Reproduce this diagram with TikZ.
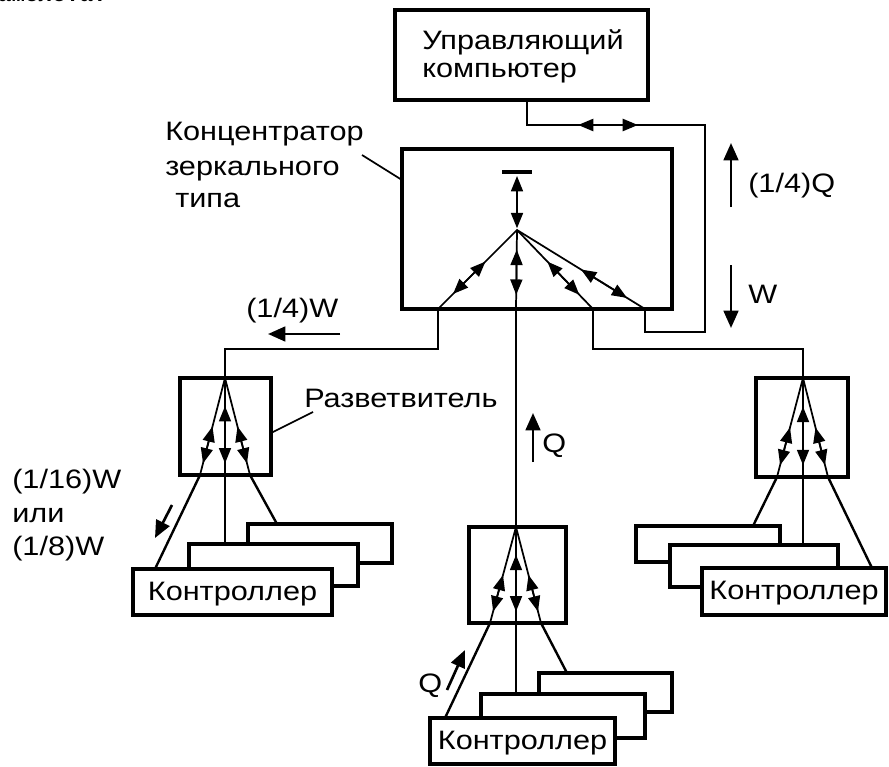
\documentclass[tikz,border=0pt]{standalone}
\usepackage{fontspec}
\setmainfont{Liberation Sans}[FakeStretch=1.15]
\newfontfamily\bookfont{Liberation Mono}
\usetikzlibrary{arrows.meta,fit,calc}

\begin{document}
\begin{tikzpicture}[x=0.75pt,y=-0.75pt,
  every node/.style={font=\fontsize{20}{24}\selectfont},
  bigbox/.style={draw, line width=3.6pt, fill=white, inner sep=0pt},
  splitbox/.style={draw, line width=3pt, inner sep=0pt},
  ctrlbox/.style={draw, line width=3.1pt, fill=white, inner sep=0pt},
  wire/.style={line width=1.8pt},
  ray/.style={line width=1.3pt},
  biarrow/.style={line width=1.3pt,
    {Triangle[length=11.5pt,width=9pt]}-{Triangle[length=11.5pt,width=9pt]}},
  flow/.style={line width=2pt, -{Triangle[length=13pt,width=11pt]}},
  lbl/.style={anchor=base west, inner sep=0pt}
]
\useasboundingbox (0,0) rectangle (889,767);
\clip (0,0) rectangle (889,767);

% tail of the preceding text line
\node[anchor=base east, inner sep=0pt,
  font=\bookfont\bfseries\fontsize{17}{17}\selectfont] (prevline) at (107,2) {самолета.};

% ---------- control computer ----------
\node[bigbox, fit={(395,10)(648,100)}] (comp) {};
\node[lbl] (comptxt1) at (422,50) {Управляющий};
\node[lbl] (comptxt2) at (422,78) {компьютер};

% ---------- mirror-type concentrator ----------
\node[bigbox, fit={(402,149)(672,309)}] (conc) {};
\node[lbl] (conclbl1) at (165,141) {Концентратор};
\node[lbl] (conclbl2) at (165,175) {зеркального};
\node[lbl] (conclbl3) at (175,207) {типа};
\coordinate (concpin) at (402,180);
\coordinate (conclead) at (362,155);
\draw[ray] (conclead) -- (concpin);

\coordinate (mirror) at (517,172);
\coordinate (hub) at (517,230);
\coordinate (cL) at (438,309);
\coordinate (cM) at (516,309);
\coordinate (cR1) at (593,309);
\coordinate (cR2) at (645,309);
\draw[line width=3.2pt] ($(mirror)+(-15,0)$) -- ($(mirror)+(15,0)$);
\draw[biarrow] ($(mirror)!0.07!(hub)$) -- ($(mirror)!0.97!(hub)$);
\draw[ray] (cL) -- (hub) -- (cR2);
\draw[ray] (hub) -- (cR1);
\draw[ray] (hub) -- (cM);
\draw[biarrow] ($(hub)!0.40!(cL)$) -- ($(hub)!0.81!(cL)$);
\draw[biarrow] ($(hub)!0.25!(cM)$) -- ($(hub)!0.82!(cM)$);
\draw[biarrow] ($(hub)!0.40!(cR1)$) -- ($(hub)!0.82!(cR1)$);
\draw[biarrow] ($(hub)!0.50!(cR2)$) -- ($(hub)!0.86!(cR2)$);

% ---------- link computer <-> concentrator ----------
\coordinate (compout) at (527,100);
\coordinate (loopTR) at (705,125);
\draw[wire] (compout) |- (loopTR) |- (645,332) -- (cR2);
\draw[biarrow, line width=1.8pt] (578,125) -- (638,125);
\draw[flow] (731,207) -- (731,143);
\node[lbl] (qq) at (748,192) {(1/4)Q};
\draw[flow] (731,265) -- (731,328);
\node[lbl] (ww) at (748,303) {W};

% ---------- splitters ----------
% left splitter
\node[splitbox, fit={(180,378)(271,475)}] (spL) {};
\coordinate (hL) at (225,378);
\coordinate (hLa) at (200,475);
\coordinate (hLb) at (225,475);
\coordinate (hLc) at (250,475);
\node[lbl] (splbl) at (304,407) {Разветвитель};
\coordinate (splead) at (313,412);
\draw[ray] (splead) -- (271,433);

% right splitter
\node[splitbox, fit={(756,378)(848,477)}] (spR) {};
\coordinate (hR) at (803,378);
\coordinate (hRa) at (777,477);
\coordinate (hRb) at (803,477);
\coordinate (hRc) at (828,477);

% bottom splitter
\node[splitbox, fit={(469,527)(566,623)}] (spB) {};
\coordinate (hB) at (516,527);
\coordinate (hBa) at (490,623);
\coordinate (hBb) at (516,623);
\coordinate (hBc) at (541,623);

\foreach \h/\a/\b/\c in {hL/hLa/hLb/hLc, hR/hRa/hRb/hRc, hB/hBa/hBb/hBc}{
  \draw[ray] (\a) -- (\h) -- (\c);
  \draw[ray] (\h) -- (\b);
  \draw[biarrow] ($(\h)!0.50!(\a)$) -- ($(\h)!0.88!(\a)$);
  \draw[biarrow] ($(\h)!0.29!(\b)$) -- ($(\h)!0.88!(\b)$);
  \draw[biarrow] ($(\h)!0.50!(\c)$) -- ($(\h)!0.88!(\c)$);
}

% concentrator outputs to splitters
\draw[wire] (cL) -- (438,349) -| (hL);
\draw[wire] (cR1) -- (593,349) -| (hR);
\draw[wire] (cM) -- (hB);
\draw[flow] (340,334) -- (268,334);
\node[lbl] (wq) at (246,317) {(1/4)W};
\draw[flow] (533,462) -- (533,413);
\node[lbl] (qc) at (542,452) {Q};

% ---------- controllers, left group ----------
\node[ctrlbox, fit={(248,524)(392,563)}] (cLb) {};
\node[ctrlbox, fit={(189,544)(358,586)}] (cLm) {};
\node[ctrlbox, fit={(133,569)(332,615)}] (cLf) {};
\node[anchor=base, inner sep=0pt] at ($(cLf.center)+(0,8)$) {Контроллер};
\draw[wire] (hLa) -- (155,569);
\draw[wire] (hLb) -- (225,544);
\draw[wire] (hLc) -- (277,524);
\draw[flow] (172,505) -- (155,538);
\node[lbl] (wl1) at (12,488) {(1/16)W};
\node[lbl] (wl2) at (12,522) {или};
\node[lbl] (wl3) at (12,555) {(1/8)W};

% ---------- controllers, right group ----------
\node[ctrlbox, fit={(636,526)(780,562)}] (cRb) {};
\node[ctrlbox, fit={(670,545)(838,587)}] (cRm) {};
\node[ctrlbox, fit={(702,568)(886,615)}] (cRf) {};
\node[anchor=base, inner sep=0pt] at ($(cRf.center)+(0,8)$) {Контроллер};
\draw[wire] (hRa) -- (753,526);
\draw[wire] (hRb) -- (803,545);
\draw[wire] (hRc) -- (872,568);

% ---------- controllers, bottom group ----------
\node[ctrlbox, fit={(539,673)(672,712)}] (cBb) {};
\node[ctrlbox, fit={(481,694)(645,738)}] (cBm) {};
\node[ctrlbox, fit={(430,718)(615,764)}] (cBf) {};
\node[anchor=base, inner sep=0pt] at ($(cBf.center)+(0,8)$) {Контроллер};
\draw[wire] (hBa) -- (445,718);
\draw[wire] (hBb) -- (516,694);
\draw[wire] (hBc) -- (567,673);
\draw[flow] (447,690) -- (465,650);
\node[lbl] (qb) at (418,692) {Q};

\end{tikzpicture}
\end{document}
